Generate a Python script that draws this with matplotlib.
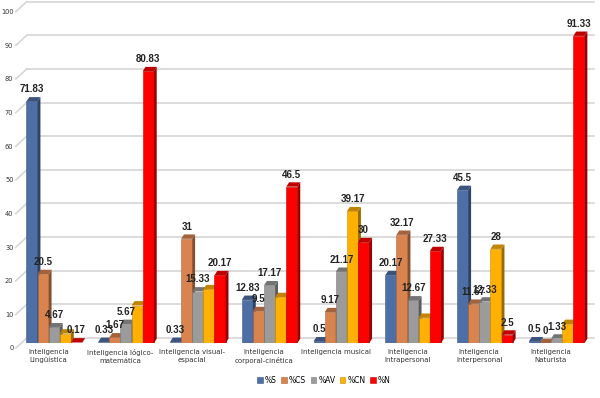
import numpy as np
import matplotlib.pyplot as plt
from matplotlib.patches import Polygon
from matplotlib.transforms import blended_transform_factory
from matplotlib.colors import to_rgb

# categories and series
categorias = ['Inteligencia\nLingüística', 'Inteligencia lógico-\nmatemática',
              'Inteligencia visual-\nespacial', 'Inteligencia\ncorporal-cinética',
              'Inteligencia musical', 'Inteligencia\nIntrapersonal',
              'Inteligencia\nInterpersonal', 'Inteligencia\nNaturista']
series = ['%S', '%CS', '%AV', '%CN', '%N']
pct_s = [71.83, 0.33, 0.33, 12.83, 0.5, 20.17, 45.5, 0.5]
pct_cs = [20.5, 1.67, 31, 9.5, 9.17, 32.17, 11.67, 0]
pct_av = [4.67, 5.67, 15.33, 17.17, 21.17, 12.67, 12.33, 1.33]
pct_cn = [2.83, 11.17, 16.0, 13.67, 39.17, 7.5, 28, 5.67]
pct_n = [0.17, 80.83, 20.17, 46.5, 30, 27.33, 2.5, 91.33]
# which values carry a data label in the original
etiqueta_cn = [False, False, False, False, True, False, True, False]

valores = [pct_s, pct_cs, pct_av, pct_cn, pct_n]
colores = ['#4e6fa6', '#d9834e', '#9b9b9b', '#ffb000', '#ff0000']

fig = plt.figure(figsize=(6, 3.98), dpi=100)
ax = fig.add_axes([0.033, 0.138, 0.957, 0.862])
ax.set_xlim(-0.5, 7.5)
ax.set_ylim(0, 102)
ax.axis('off')

# back wall gridlines + perspective floor lines
tr = blended_transform_factory(ax.transAxes, ax.transData)
for v in range(0, 101, 10):
    ax.plot([0.012, 1.0], [v + 1.5, v + 1.5], color='#d6d6d6', lw=1.2,
            transform=tr, clip_on=False, zorder=0)
    ax.plot([-0.007, 0.012], [v - 1.5, v + 1.5], color='#d6d6d6', lw=1.2,
            transform=tr, clip_on=False, zorder=0)
    ax.text(-0.011, v - 1.6, str(v), transform=tr, ha='right', va='center',
            fontsize=4.8, color='#333333')

x = np.arange(len(categorias))
w = 0.155
dx, dy = 0.04, 1.3


def darker(c, f):
    r, g, b = to_rgb(c)
    return (r * f, g * f, b * f)


for i, (vals, col) in enumerate(zip(valores, colores)):
    xs = x + (i - 2) * w - 0.02
    ax.bar(xs, vals, width=w, color=col, edgecolor=darker(col, 0.8),
           linewidth=0.4, zorder=2 + i, label=series[i])
    for xi, v in zip(xs, vals):
        r = xi + w / 2
        l = xi - w / 2
        side = Polygon([[r, 0], [r + dx, dy], [r + dx, v + dy], [r, v]],
                       closed=True, color=darker(col, 0.6), zorder=2 + i, lw=0)
        top = Polygon([[l, v], [l + dx, v + dy], [r + dx, v + dy], [r, v]],
                      closed=True, color=darker(col, 0.75), zorder=2 + i, lw=0)
        ax.add_patch(side)
        ax.add_patch(top)

# data labels
for i, vals in enumerate(valores):
    xs = x + (i - 2) * w - 0.02
    for j, (xi, v) in enumerate(zip(xs, vals)):
        if i == 3 and not etiqueta_cn[j]:
            continue
        ax.text(xi, v + dy + 0.8, f'{v:g}', ha='center', va='bottom',
                fontsize=7, fontweight='bold', color='#222222',
                family='Liberation Sans', zorder=20)

# category labels
for xi, c in zip(x, categorias):
    ax.text(xi - 0.1, -1.8, c, ha='center', va='top', fontsize=5,
            color='#333333', linespacing=1.3)

leg = fig.legend(loc='center', bbox_to_anchor=(0.54, 0.045), ncol=5,
                 frameon=False, fontsize=5.5, handlelength=0.7,
                 handleheight=0.7, handletextpad=0.3, columnspacing=0.6)

fig.savefig('out.png', dpi=100)
